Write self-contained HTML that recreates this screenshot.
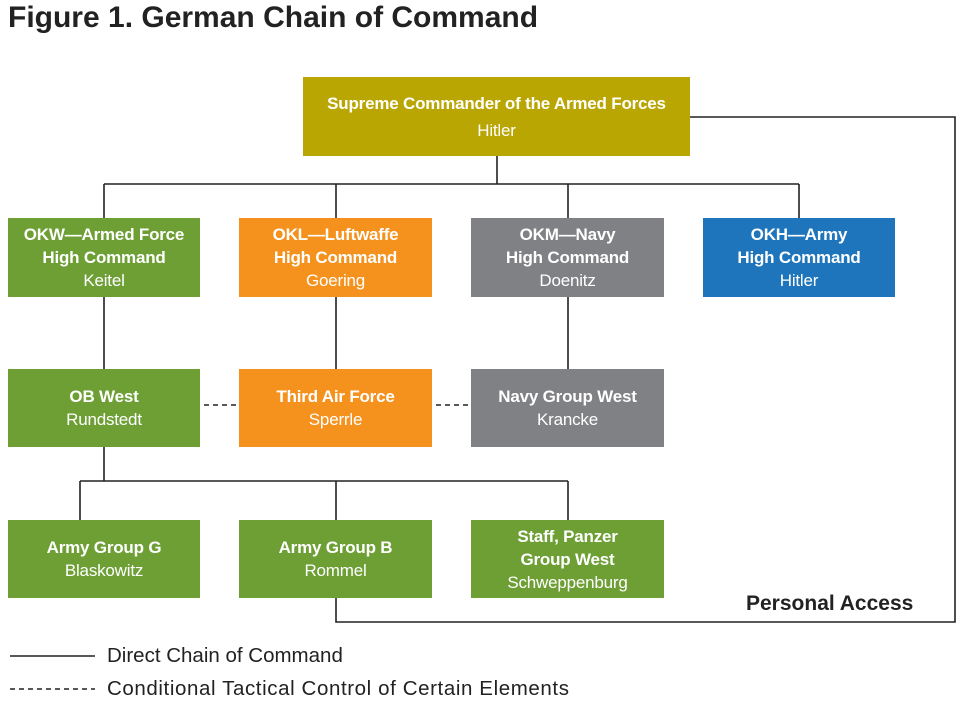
<!DOCTYPE html>
<html><head><style>
body{margin:0;width:965px;height:706px;background:#fff;font-family:"Liberation Sans",sans-serif;position:relative;overflow:hidden}
.b{position:absolute;color:#fff;display:flex;flex-direction:column;justify-content:center;align-items:center;text-align:center;font-size:17px;line-height:23px;letter-spacing:-0.2px}
.b b{font-weight:bold}
.g{background:#6d9f35}.o{background:#f5921e}.y{background:#b9a603}.n{background:#808184}.bl{background:#1e75bb}
</style></head><body>
<div style="position:absolute;left:8px;top:1px;font-size:30px;font-weight:bold;color:#222">Figure 1. German Chain of Command</div>
<svg width="965" height="706" style="position:absolute;left:0;top:0" stroke="#222" stroke-width="1.6" fill="none">
<path d="M497 156V184M104 184H799M104 184V218M336 184V218M568 184V218M799 184V218"/>
<path d="M104 297V369M336 297V369M568 297V369"/>
<path d="M104 447V481M80 481H568M80 481V520M336 481V520M568 481V520"/>
<path d="M690 117H955V622H336V598"/>
<path d="M204 405H236M436 405H468" stroke-dasharray="5,4"/>
<path d="M10 656H95"/>
<path d="M10 689H95" stroke-dasharray="5,4"/>
</svg>
<div class="b y" style="left:303px;top:77px;width:387px;height:79px;line-height:27px"><b>Supreme Commander of the Armed Forces</b>Hitler</div>
<div class="b g" style="left:8px;top:218px;width:192px;height:79px"><b>OKW—Armed Force</b><b>High Command</b>Keitel</div>
<div class="b o" style="left:239px;top:218px;width:193px;height:79px"><b>OKL—Luftwaffe</b><b>High Command</b>Goering</div>
<div class="b n" style="left:471px;top:218px;width:193px;height:79px"><b>OKM—Navy</b><b>High Command</b>Doenitz</div>
<div class="b bl" style="left:703px;top:218px;width:192px;height:79px"><b>OKH—Army</b><b>High Command</b>Hitler</div>
<div class="b g" style="left:8px;top:369px;width:192px;height:78px"><b>OB West</b>Rundstedt</div>
<div class="b o" style="left:239px;top:369px;width:193px;height:78px"><b>Third Air Force</b>Sperrle</div>
<div class="b n" style="left:471px;top:369px;width:193px;height:78px"><b>Navy Group West</b>Krancke</div>
<div class="b g" style="left:8px;top:520px;width:192px;height:78px"><b>Army Group G</b>Blaskowitz</div>
<div class="b g" style="left:239px;top:520px;width:193px;height:78px"><b>Army Group B</b>Rommel</div>
<div class="b g" style="left:471px;top:520px;width:193px;height:78px"><b>Staff, Panzer</b><b>Group West</b>Schweppenburg</div>
<div style="position:absolute;left:746px;top:592px;font-size:21px;font-weight:bold;color:#222">Personal Access</div>
<div style="position:absolute;left:107px;top:644px;font-size:20.5px;color:#222">Direct Chain of Command</div>
<div style="position:absolute;left:107px;top:677px;font-size:20.5px;color:#222;letter-spacing:0.6px">Conditional Tactical Control of Certain Elements</div>
</body></html>
